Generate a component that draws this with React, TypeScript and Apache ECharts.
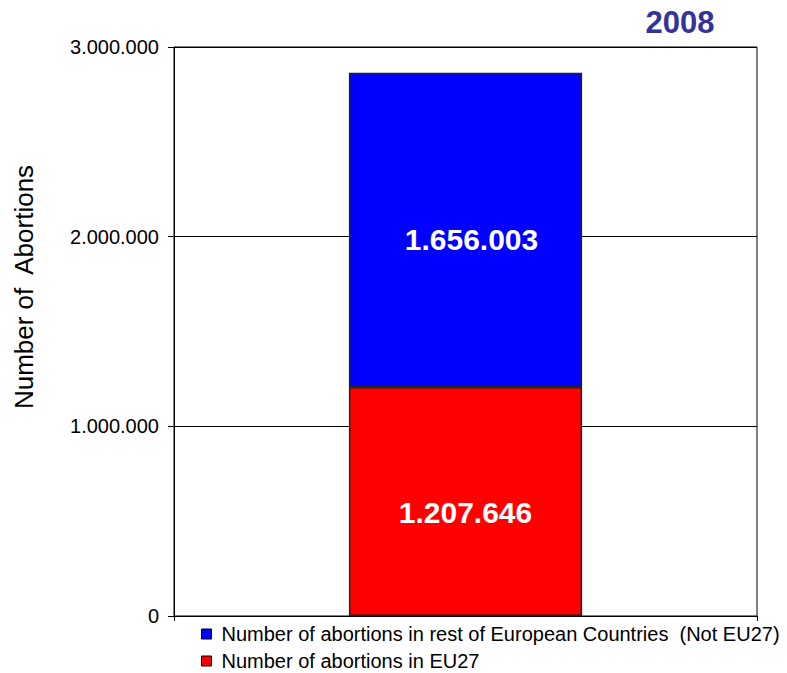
import React, { useEffect, useRef } from "react";
import * as echarts from "echarts";

const categories = ["2008"];
const eu27 = [1207646];
const restOfEurope = [1656003];
const seriesNames = [
  "Number of abortions in rest of European Countries  (Not EU27)",
  "Number of abortions in EU27",
];
const yTicks = [0, 1000000, 2000000, 3000000];

const FONT = "'Liberation Sans', Arial, sans-serif";

function fmt(v: number): string {
  return String(Math.round(v)).replace(/\B(?=(\d{3})+(?!\d))/g, ".");
}

export default function App() {
  const ref = useRef<HTMLDivElement>(null);
  useEffect(() => {
    document.body.style.margin = "0";
    if (!ref.current) return;
    const chart = echarts.init(ref.current, undefined, { renderer: "svg" });
    chart.setOption({
      animation: false,
      backgroundColor: "#fff",
      grid: {
        left: 174,
        right: 30,
        top: 47,
        bottom: 57,
        show: true,
        borderColor: "#000",
        borderWidth: 1,
        backgroundColor: "transparent",
      },
      graphic: [
        {
          type: "text",
          x: 680,
          y: 22,
          style: {
            text: categories[0],
            font: `bold 31px ${FONT}`,
            fill: "#333399",
            textAlign: "center",
            textVerticalAlign: "middle",
          },
        },
        {
          type: "text",
          x: 24,
          y: 287,
          rotation: Math.PI / 2,
          style: {
            text: "Number of  Abortions",
            font: `26px ${FONT}`,
            fill: "#000",
            textAlign: "center",
            textVerticalAlign: "middle",
          },
        },
      ],
      legend: {
        orient: "vertical",
        left: 201,
        top: 624,
        padding: 0,
        itemWidth: 10,
        itemHeight: 10,
        itemGap: 7,
        data: [seriesNames[0], seriesNames[1]],
        textStyle: {
          fontSize: 20,
          color: "#000",
          fontFamily: FONT,
          lineHeight: 20,
          padding: [0, 0, 0, 5],
        },
        itemStyle: { borderColor: "#000", borderWidth: 1 },
        icon: "rect",
      },
      xAxis: {
        type: "category",
        data: categories,
        axisLine: { show: true, lineStyle: { color: "#000", width: 1 } },
        axisTick: { show: true, length: 5, lineStyle: { color: "#000" } },
        axisLabel: { show: false },
      },
      yAxis: {
        type: "value",
        min: yTicks[0],
        max: yTicks[yTicks.length - 1],
        interval: 1000000,
        axisLine: { show: true, lineStyle: { color: "#000", width: 1 } },
        axisTick: { show: true, length: 6, lineStyle: { color: "#000" } },
        axisLabel: {
          formatter: (v: number) => fmt(v),
          fontSize: 20,
          color: "#000",
          fontFamily: FONT,
          margin: 15,
        },
        splitLine: { show: true, lineStyle: { color: "#000", width: 1 } },
      },
      series: [
        {
          name: seriesNames[1],
          type: "bar",
          stack: "total",
          data: eu27,
          barWidth: "40%",
          itemStyle: { color: "#ff0000", borderColor: "#222", borderWidth: 1.5 },
          label: {
            show: true,
            position: "inside",
            offset: [0, 11],
            formatter: (p: any) => fmt(p.value),
            color: "#fff",
            fontSize: 30,
            fontWeight: "bold",
            fontFamily: FONT,
          },
        },
        {
          name: seriesNames[0],
          type: "bar",
          stack: "total",
          data: restOfEurope,
          barWidth: "40%",
          itemStyle: { color: "#0000ff", borderColor: "#222", borderWidth: 1.5 },
          label: {
            show: true,
            position: "inside",
            offset: [6, 10],
            formatter: (p: any) => fmt(p.value),
            color: "#fff",
            fontSize: 30,
            fontWeight: "bold",
            fontFamily: FONT,
          },
        },
      ],
    });
    return () => chart.dispose();
  }, []);
  return <div ref={ref} style={{ width: 787, height: 673 }} />;
}
